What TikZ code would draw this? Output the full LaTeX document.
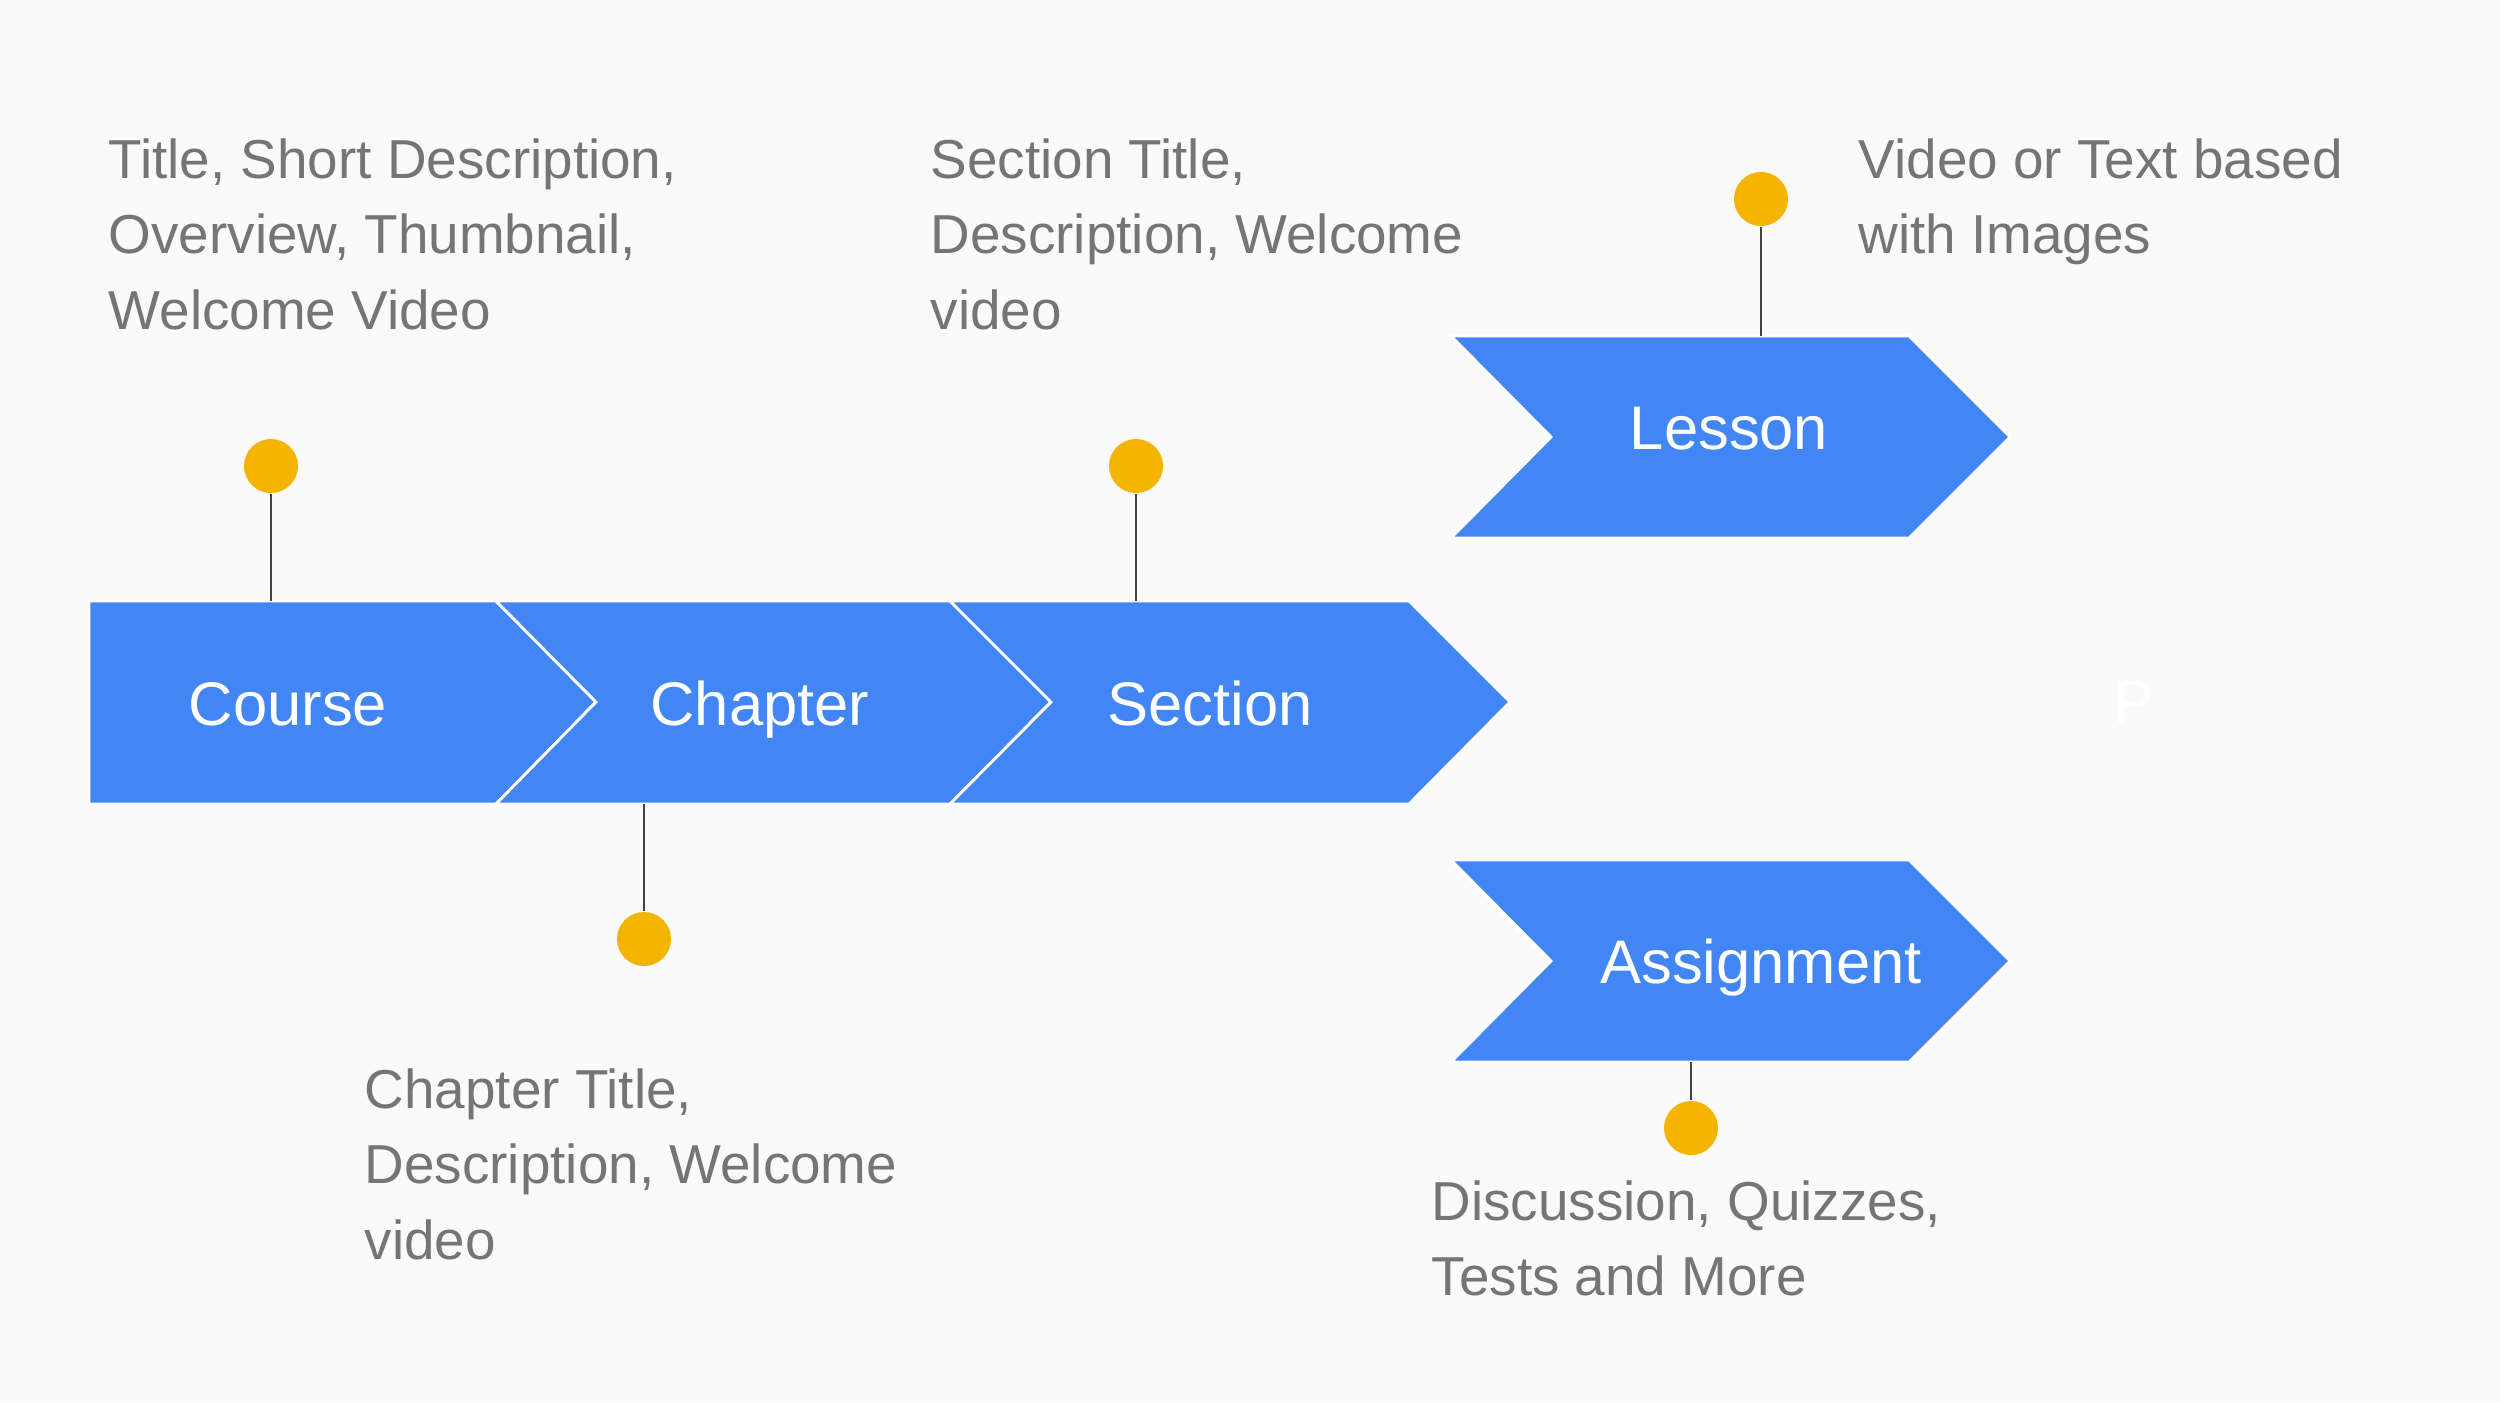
\documentclass[tikz,border=0pt]{standalone}
\usepackage{fontspec}
\setmainfont{Liberation Sans}
\definecolor{bg}{HTML}{FAFAFA}
\definecolor{gblue}{HTML}{4286F5}
\definecolor{gyellow}{HTML}{F4B400}
\definecolor{txtgray}{HTML}{757575}
\definecolor{linegray}{HTML}{424242}
\begin{document}
\begin{tikzpicture}[x=0.01cm,y=-0.01cm,
  chev/.style={fill=gblue,draw=white,line width=0.8pt,line join=miter},
  lbl/.style={text=white,font=\fontsize{17.5}{21}\selectfont,inner sep=0,anchor=base},
  desc/.style={text=txtgray,font=\fontsize{15.6}{21.6}\selectfont,inner sep=0,anchor=base west},
  dotnode/.style={circle,fill=gyellow,minimum size=0.54cm,inner sep=0},
  stem/.style={draw=linegray,line width=0.6pt}]
\fill[bg] (0,0) rectangle (2500,1402);
\useasboundingbox (0,0) rectangle (2500,1402);
% main chevrons
\draw[chev] (89,601) -- (496,601) -- (596,702) -- (496,804) -- (89,804) -- cycle;
\draw[chev] (496,601) -- (950,601) -- (1051,702) -- (950,804) -- (496,804) -- (596,702) -- cycle;
\draw[chev] (950,601) -- (1409,601) -- (1510,702) -- (1409,804) -- (950,804) -- (1051,702) -- cycle;
\draw[chev] (1451,336) -- (1909,336) -- (2010,437) -- (1909,538) -- (1451,538) -- (1551,437) -- cycle;
\draw[chev] (1451,860) -- (1909,860) -- (2010,961) -- (1909,1062) -- (1451,1062) -- (1551,961) -- cycle;
% labels
\node[lbl] (course) at (288,725) {Course};
\node[lbl] (chapter) at (760,725) {Chapter};
\node[lbl] (section) at (1210,725) {Section};
\node[lbl] (lesson) at (1729,449) {Lesson};
\node[lbl] (assignment) at (1761,983) {Assignment};
\node[lbl,anchor=base west] (pletter) at (2113,723) {P};
% stem anchors
\coordinate (courseTop) at (271,601);
\coordinate (sectionTop) at (1136,601);
\coordinate (chapterBot) at (644,804);
\coordinate (lessonTop) at (1761,336);
\coordinate (assignBot) at (1691,1062);
% dots
\node[dotnode] (dcourse) at (271,466) {};
\node[dotnode] (dsection) at (1136,466) {};
\node[dotnode] (dchapter) at (644,939) {};
\node[dotnode] (dlesson) at (1761,199) {};
\node[dotnode] (dassign) at (1691,1128) {};
\draw[stem] (dcourse) -- (courseTop);
\draw[stem] (dsection) -- (sectionTop);
\draw[stem] (chapterBot) -- (dchapter);
\draw[stem] (dlesson) -- (lessonTop);
\draw[stem] (assignBot) -- (dassign);
% descriptions
\node[desc] (tcourse) at (108,178) {\begin{tabular}[t]{@{}l@{}}Title, Short Description,\\Overview, Thumbnail,\\Welcome Video\end{tabular}};
\node[desc] (tsection) at (930,178) {\begin{tabular}[t]{@{}l@{}}Section Title,\\Description, Welcome\\video\end{tabular}};
\node[desc] (tlesson) at (1858,178) {\begin{tabular}[t]{@{}l@{}}Video or Text based\\with Images\end{tabular}};
\node[desc] (tchapter) at (364,1108) {\begin{tabular}[t]{@{}l@{}}Chapter Title,\\Description, Welcome\\video\end{tabular}};
\node[desc] (tassign) at (1431,1220) {\begin{tabular}[t]{@{}l@{}}Discussion, Quizzes,\\Tests and More\end{tabular}};
\end{tikzpicture}
\end{document}
